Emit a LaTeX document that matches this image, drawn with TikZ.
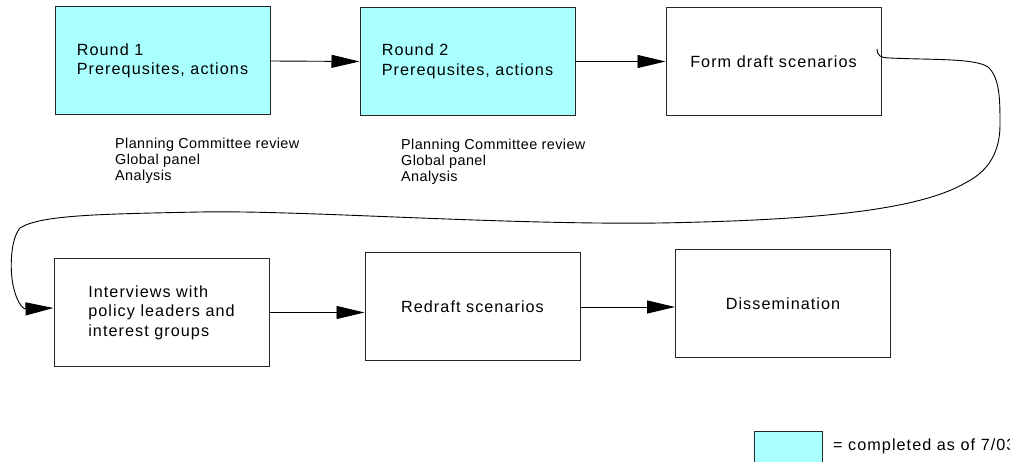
\documentclass[tikz,border=0pt]{standalone}
\usepackage{fontspec}
\usepackage{tikz}
\usetikzlibrary{arrows.meta}
\newfontfamily\boxfont[LetterSpace=6.5]{Liberation Sans}
\newfontfamily\notefont[LetterSpace=2.8]{Liberation Sans}
\definecolor{donecyan}{RGB}{170,255,255}

\begin{document}
\begin{tikzpicture}[x=1pt, y=-1pt,
    stage/.style={draw=black!85, line width=1pt, minimum width=215pt, minimum height=108pt,
        inner sep=0pt, align=left, font=\boxfont\fontsize{16.2}{19.5}\selectfont},
    done/.style={stage, fill=donecyan},
    note/.style={anchor=north west, inner sep=0pt, align=left,
        font=\notefont\fontsize{14.4}{16.3}\selectfont},
    flow/.style={line width=0.9pt, -{Triangle[length=28pt, width=13pt]}}]
    \useasboundingbox (0,0) rectangle (1010,462);

    % Stages, top row
    \node[done] (round1) at (162.5,61) {Round 1\\Prerequsites, actions};
    \node[done] (round2) at (467.5,61.5) {Round 2\\Prerequsites, actions};
    \node[stage] (draft) at (773.5,62) {Form draft scenarios};

    % Stages, bottom row
    \node[stage] (interviews) at (161.5,312.5) {Interviews with\\policy leaders and\\interest groups};
    \node[stage] (redraft) at (472.5,307) {Redraft scenarios};
    \node[stage] (dissem) at (783,304) {Dissemination};

    % Notes under the rounds
    \node[note] (notes1) at (115,137.6) {Planning Committee review\\Global panel\\Analysis};
    \node[note] (notes2) at (401,138.6) {Planning Committee review\\Global panel\\Analysis};

    % Arrows
    \draw[flow] (round1.east) -- (round2.west);
    \draw[flow] (round2.east) -- (round2.east -| draft.west);
    \draw[flow] (interviews.east) -- (interviews.east -| redraft.west);
    \draw[flow] (redraft.east) -- (redraft.east -| dissem.west);

    % Loop from the top row back to the bottom row
    \coordinate (draftend) at (877,49);
    \draw[flow] (draftend) .. controls (877,55) and (880,58) .. (890,58)
        .. controls (930,60) and (975,58) .. (988,67)
        .. controls (1000,78) and (1000,100) .. (1000,125)
        .. controls (1000,150) and (990,170) .. (967,182)
        .. controls (920,210) and (820,220) .. (660,223)
        .. controls (500,225) and (300,210) .. (200,212)
        .. controls (100,214) and (40,215) .. (20,228)
        .. controls (10,240) and (10,270) .. (13,285)
        .. controls (16,300) and (22,309) .. ([yshift=4.5pt]interviews.west);

    % Legend
    \node[draw=black!85, line width=1pt, fill=donecyan, minimum width=68pt, minimum height=32pt,
        inner sep=0pt] (legendbox) at (788,447) {};
    \node[anchor=base west, inner sep=0pt, font=\boxfont\fontsize{16.2}{19.5}\selectfont]
        (legendtext) at (833,450) {= completed as of 7/03};
\end{tikzpicture}
\end{document}
